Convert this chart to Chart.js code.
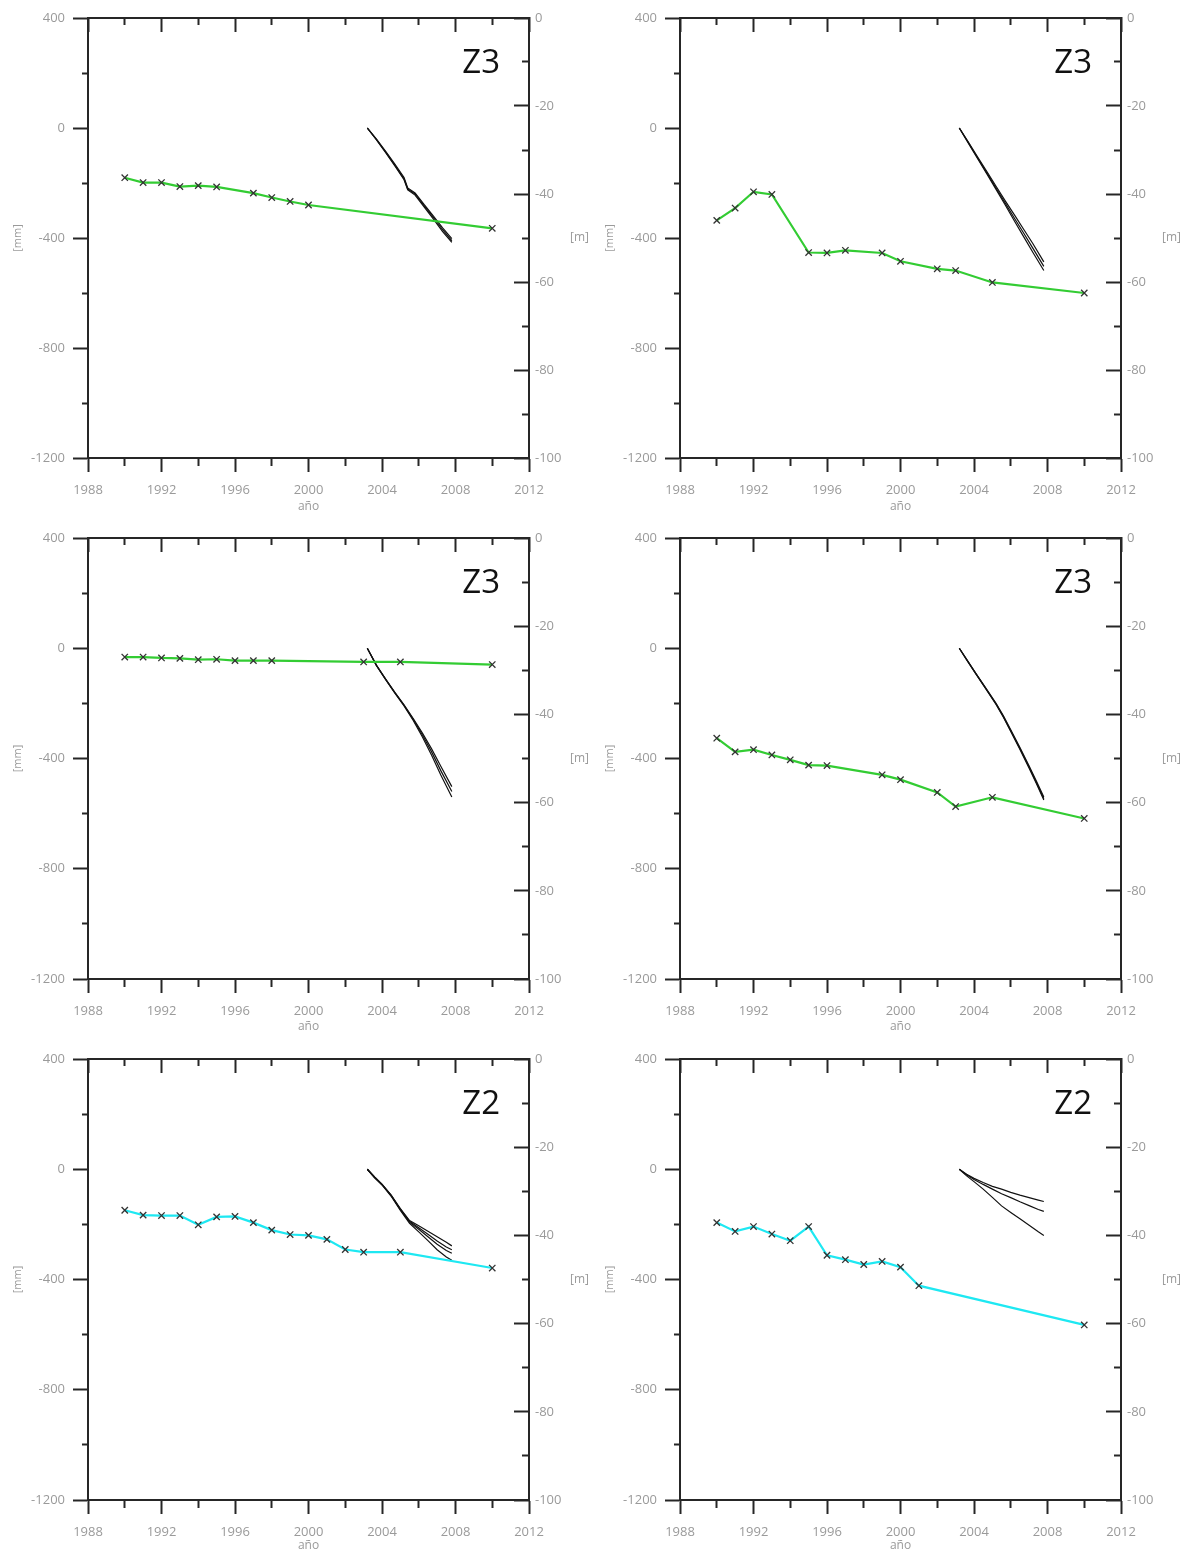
<!DOCTYPE html>
<html><head><meta charset="utf-8">
<script src="https://cdn.jsdelivr.net/npm/chart.js@4.4.1/dist/chart.umd.min.js"></script>
<style>
html,body{margin:0;padding:0;background:#fff;}
#wrap{position:relative;width:1185px;height:1553px;overflow:hidden;background:#fff;}
.cell{position:absolute;}
canvas{display:block;}
</style></head><body>
<div id="wrap"></div>
<script>
// ---------- tick labels ----------
const xTickLabels = ['1988','1992','1996','2000','2004','2008','2012'];
const mmTickLabels = ['400','0','-400','-800','-1200'];
const mTickLabels = ['0','-20','-40','-60','-80','-100'];
const zoneLabels = ['Z3','Z3','Z3','Z3','Z2','Z2'];

// ---------- piezometric level [m] ----------
const years1 = [1990,1991,1992,1993,1994,1995,1997,1998,1999,2000,2010];
const level1 = [-36.3,-37.4,-37.4,-38.3,-38.1,-38.4,-39.8,-40.8,-41.7,-42.5,-47.8];
const years2 = [1990,1991,1992,1993,1995,1996,1997,1999,2000,2002,2003,2005,2010];
const level2 = [-46.0,-43.2,-39.5,-40.1,-53.3,-53.4,-52.8,-53.4,-55.3,-57.0,-57.4,-60.1,-62.5];
const years3 = [1990,1991,1992,1993,1994,1995,1996,1997,1998,2003,2005,2010];
const level3 = [-27.0,-27.0,-27.2,-27.3,-27.6,-27.5,-27.8,-27.8,-27.8,-28.1,-28.1,-28.7];
const years4 = [1990,1991,1992,1993,1994,1995,1996,1999,2000,2002,2003,2005,2010];
const level4 = [-45.4,-48.5,-48.0,-49.2,-50.3,-51.5,-51.6,-53.7,-54.8,-57.7,-60.9,-58.8,-63.6];
const years5 = [1990,1991,1992,1993,1994,1995,1996,1997,1998,1999,2000,2001,2002,2003,2005,2010];
const level5 = [-34.3,-35.4,-35.5,-35.5,-37.6,-35.8,-35.7,-37.1,-38.8,-39.8,-40.0,-40.9,-43.2,-43.8,-43.8,-47.4];
const years6 = [1990,1991,1992,1993,1994,1995,1996,1997,1998,1999,2000,2001,2010];
const level6 = [-37.1,-39.1,-38.0,-39.7,-41.2,-38.0,-44.5,-45.5,-46.6,-45.9,-47.2,-51.4,-60.3];

// ---------- deformation [mm] ----------
const defYears1 = [2003.2,2003.7,2004.2,2004.7,2005.2,2005.4,2005.8,2006.3,2006.8,2007.3,2007.8];
const def1a = [0,-42,-88,-135,-185,-222,-240,-283,-325,-370,-410];
const def1b = [0,-40,-85,-131,-180,-218,-236,-279,-320,-363,-402];
const def1c = [0,-43,-90,-138,-188,-225,-244,-288,-331,-377,-416];

const defYears2 = [2003.2,2003.7,2004.2,2004.7,2005.2,2005.7,2006.2,2006.7,2007.2,2007.8];
const def2a = [0,-52,-106,-158,-212,-265,-316,-368,-420,-487];
const def2b = [0,-54,-109,-163,-218,-273,-328,-382,-437,-503];
const def2c = [0,-56,-112,-167,-223,-280,-338,-395,-452,-518];

const defYears3 = [2003.2,2003.7,2004.2,2004.7,2005.2,2005.7,2006.2,2006.7,2007.2,2007.8];
const def3a = [0,-62,-112,-160,-205,-255,-308,-365,-428,-502];
const def3b = [0,-62,-113,-161,-207,-258,-315,-376,-444,-520];
const def3c = [0,-63,-114,-163,-209,-262,-322,-388,-460,-540];

const defYears4 = [2003.2,2003.6,2004.1,2004.6,2005.2,2005.6,2006.0,2006.5,2007.0,2007.4,2007.8];
const def4a = [0,-40,-91,-140,-200,-245,-296,-360,-427,-483,-540];
const def4b = [0,-41,-92,-142,-202,-248,-299,-364,-431,-488,-546];
const def4c = [0,-42,-93,-143,-204,-250,-302,-367,-435,-492,-551];

const defYears5 = [2003.2,2003.6,2004.0,2004.5,2005.0,2005.5,2006.0,2006.5,2007.0,2007.5,2007.8];
const def5a = [0,-28,-54,-94,-143,-186,-205,-225,-245,-265,-278];
const def5b = [0,-29,-55,-95,-145,-189,-212,-236,-260,-282,-292];
const def5c = [0,-30,-56,-96,-147,-192,-218,-245,-272,-295,-305];
const def5d = [0,-31,-57,-98,-149,-196,-227,-259,-292,-318,-330];

const defYears6 = [2003.2,2003.6,2004.0,2004.5,2005.0,2005.5,2006.0,2006.5,2007.0,2007.5,2007.8];
const def6a = [0,-18,-33,-48,-62,-72,-84,-94,-103,-112,-117];
const def6b = [0,-20,-37,-55,-72,-89,-103,-118,-132,-146,-153];
const def6c = [0,-24,-45,-72,-102,-133,-157,-180,-203,-227,-240];

const GREEN = '#33cc33', CYAN = '#1ee8f2';

const panels = [
  {zone: zoneLabels[0], years: years1, level: level1, color: GREEN, defYears: defYears1, def: [def1a, def1b, def1c]},
  {zone: zoneLabels[1], years: years2, level: level2, color: GREEN, defYears: defYears2, def: [def2a, def2b, def2c]},
  {zone: zoneLabels[2], years: years3, level: level3, color: GREEN, defYears: defYears3, def: [def3a, def3b, def3c]},
  {zone: zoneLabels[3], years: years4, level: level4, color: GREEN, defYears: defYears4, def: [def4a, def4b, def4c]},
  {zone: zoneLabels[4], years: years5, level: level5, color: CYAN, defYears: defYears5, def: [def5a, def5b, def5c, def5d]},
  {zone: zoneLabels[5], years: years6, level: level6, color: CYAN, defYears: defYears6, def: [def6a, def6b, def6c]}
];

// ---------- layout & style ----------
const AX = '#262626', LBL = '#9a9a9a', FONT = '"Open Sans", "DejaVu Sans", sans-serif';
const rows = [
  {top: 0, h: 520, pad: 18, xh: 62, tp: 6},
  {top: 520, h: 520, pad: 18, xh: 61, tp: 6},
  {top: 1040, h: 513, pad: 19, xh: 53, tp: 0}
];
const cols = [{left: 0, w: 592, rw: 63}, {left: 592, w: 593, rw: 64}];

const lab = (list, v) => { const s = String(Math.round(v)); return list.includes(s) ? s : ''; };
const isMinor = (list, ctx) => !!(ctx.tick && !list.includes(String(Math.round(ctx.tick.value))));

const zonePlugin = {
  id: 'zoneLabel',
  afterDraw(chart, args, opts) {
    const {ctx, chartArea: a} = chart;
    ctx.save();
    ctx.fillStyle = '#111';
    ctx.font = '33px ' + FONT;
    ctx.textAlign = 'right';
    ctx.textBaseline = 'alphabetic';
    ctx.fillText(opts.text, a.right - 29, a.top + 55);
    ctx.fillStyle = LBL;
    ctx.font = '12px ' + FONT;
    ctx.textAlign = 'left';
    ctx.textBaseline = 'middle';
    ctx.fillText('[m]', a.right + 41, (a.top + a.bottom) / 2);
    ctx.restore();
  }
};

const wrap = document.getElementById('wrap');

panels.forEach((p, i) => {
  const r = rows[Math.floor(i / 2)], c = cols[i % 2];
  const div = document.createElement('div');
  div.className = 'cell';
  div.style.left = c.left + 'px';
  div.style.top = r.top + 'px';
  const cv = document.createElement('canvas');
  cv.width = c.w; cv.height = r.h;
  cv.style.width = c.w + 'px'; cv.style.height = r.h + 'px';
  div.appendChild(cv);
  wrap.appendChild(div);

  const ds = [];
  ds.push({
    data: p.years.map((x, k) => ({x, y: p.level[k]})),
    xAxisID: 'x', yAxisID: 'yR', showLine: true, tension: 0,
    borderColor: p.color, borderWidth: 2.2,
    pointStyle: 'crossRot', pointRadius: 4.5, pointBorderWidth: 1.3,
    pointBorderColor: '#333', pointBackgroundColor: '#333', order: 1
  });
  p.def.forEach(s => ds.push({
    data: p.defYears.map((x, k) => ({x, y: s[k]})),
    xAxisID: 'x', yAxisID: 'y', showLine: true, tension: 0,
    borderColor: '#111', borderWidth: 1.2, pointRadius: 0, order: 2
  }));

  new Chart(cv, {
    type: 'scatter',
    data: {datasets: ds},
    plugins: [zonePlugin],
    options: {
      responsive: false, animation: false, devicePixelRatio: 1,
      layout: {padding: {top: r.pad, left: 0, right: 0, bottom: 0}},
      plugins: {legend: {display: false}, tooltip: {enabled: false}, zoneLabel: {text: p.zone}},
      scales: {
        x: {
          type: 'linear', position: 'bottom', min: 1988, max: 2012,
          ticks: {stepSize: 2, autoSkip: false, maxRotation: 0, minRotation: 0, padding: 10,
                  color: LBL, font: {family: FONT, size: 13}, callback: v => lab(xTickLabels, v)},
          grid: {drawOnChartArea: false, drawTicks: true, tickLength: 14, tickWidth: 2, tickColor: AX,
                 tickBorderDash: ctx => isMinor(xTickLabels, ctx) ? [7, 100] : []},
          border: {display: true, color: AX, width: 2},
          title: {display: true, text: 'año', color: LBL, font: {family: FONT, size: 12},
                  padding: {top: 0, bottom: r.tp}},
          afterFit: s => { s.height = r.xh; s.paddingLeft = 0; s.paddingRight = 0; }
        },
        x2: {
          type: 'linear', position: 'top', min: 1988, max: 2012,
          ticks: {stepSize: 2, display: false, autoSkip: false},
          grid: {drawOnChartArea: false, drawTicks: true, tickLength: -14, tickWidth: 2, tickColor: AX,
                 tickBorderDash: ctx => isMinor(xTickLabels, ctx) ? [0, 7, 7, 100] : []},
          border: {display: true, color: AX, width: 2},
          afterFit: s => { s.height = 0; s.paddingLeft = 0; s.paddingRight = 0; }
        },
        y: {
          type: 'linear', position: 'left', min: -1200, max: 400,
          ticks: {stepSize: 200, autoSkip: false, padding: 8, color: LBL,
                  font: {family: FONT, size: 13}, callback: v => lab(mmTickLabels, v)},
          grid: {drawOnChartArea: false, drawTicks: true, tickLength: 15, tickWidth: 2, tickColor: AX,
                 tickBorderDash: ctx => isMinor(mmTickLabels, ctx) ? [0, 9, 6, 100] : []},
          border: {display: true, color: AX, width: 2},
          title: {display: true, text: '[mm]', color: LBL, font: {family: FONT, size: 11},
                  padding: {top: 11, bottom: 0}},
          afterFit: s => { s.width = 88; s.paddingTop = 0; s.paddingBottom = 0; }
        },
        yR: {
          type: 'linear', position: 'right', min: -100, max: 0,
          ticks: {stepSize: 10, autoSkip: false, padding: 21, color: LBL,
                  font: {family: FONT, size: 13}, callback: v => lab(mTickLabels, v)},
          grid: {drawOnChartArea: false, drawTicks: true, tickLength: -15, tickWidth: 2, tickColor: AX,
                 tickBorderDash: ctx => isMinor(mTickLabels, ctx) ? [8, 100] : []},
          border: {display: true, color: AX, width: 2},
          afterFit: s => { s.width = c.rw; s.paddingTop = 0; s.paddingBottom = 0; }
        }
      }
    }
  });
});
</script>
</body></html>
